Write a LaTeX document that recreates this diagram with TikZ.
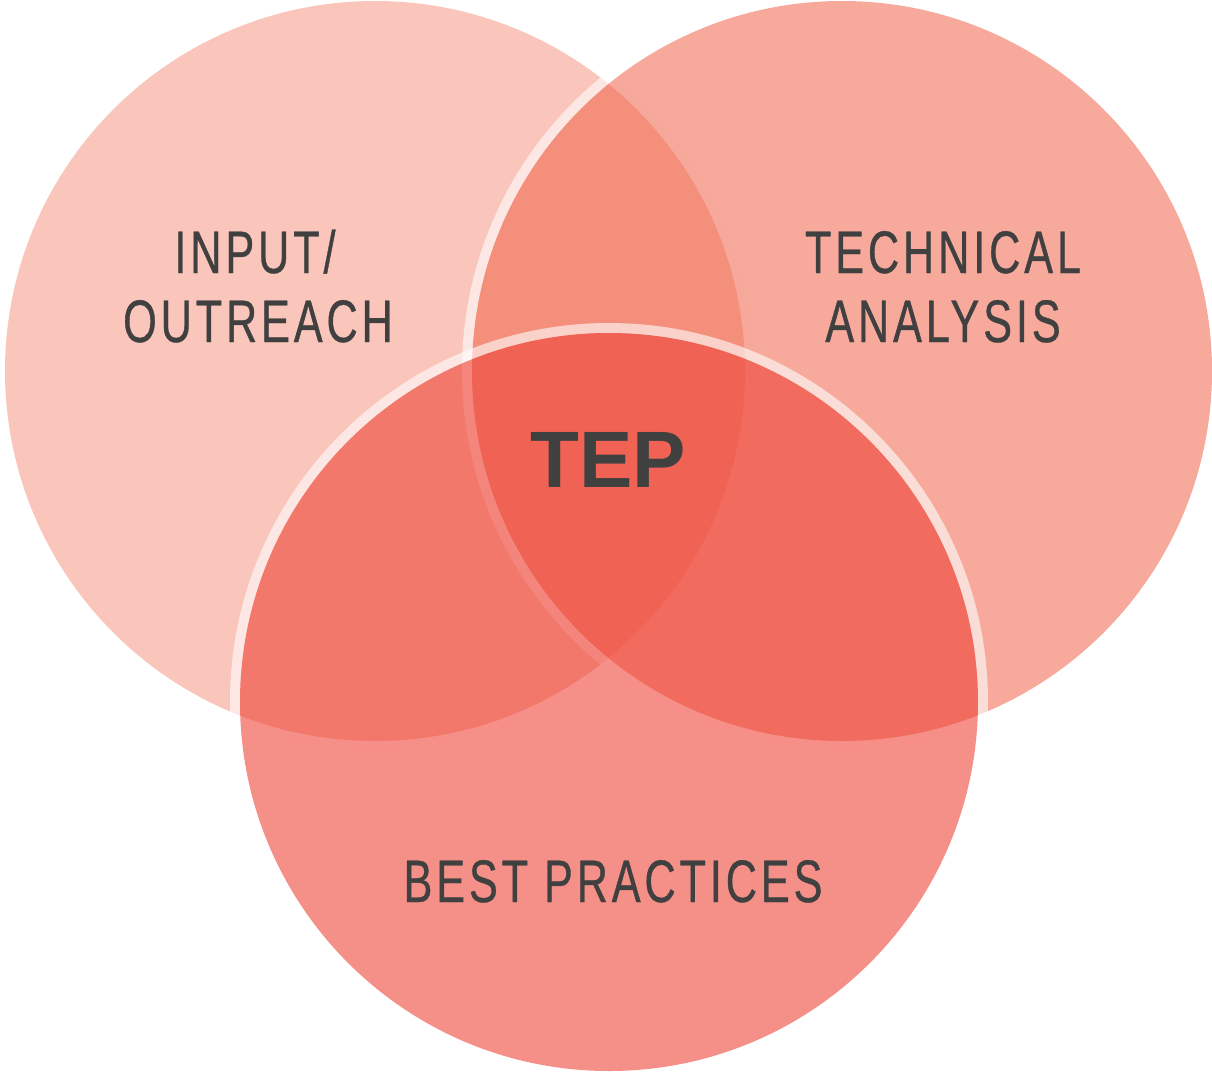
\documentclass[tikz,border=0pt]{standalone}
\usepackage{fontspec}
\setmainfont{Liberation Sans}
\newfontfamily\narrowfont[FakeStretch=0.72,LetterSpace=6.5,FakeBold=0.6]{Liberation Sans}
\usetikzlibrary{%
	positioning
}
\definecolor{inputfill}{RGB}{241,92,61}
\definecolor{techfill}{RGB}{240,99,73}
\definecolor{bestfill}{RGB}{238,66,54}
\definecolor{labelgray}{RGB}{64,64,64}

\begin{document}
\begin{tikzpicture}[
		x=0.5pt,y=-0.5pt,
		SLabel/.style={font=\narrowfont\fontsize{30}{34}\selectfont,text=labelgray,inner sep=0pt,anchor=base},
		SCore/.style={font=\bfseries\fontsize{40}{44}\selectfont,text=labelgray,inner sep=0pt},
		ring/.style={draw=white,draw opacity=.6,line width=5pt}
	]
	\useasboundingbox (0,0) rectangle (1212,1073);
	
	%input / outreach
	\draw [ring] (375,371) circle [radius=375];
	\fill [inputfill,fill opacity=.35] (375,371) circle [radius=370];
	
	%technical analysis
	\draw [ring] (842,371) circle [radius=375];
	\fill [techfill,fill opacity=.55] (842,371) circle [radius=370];
	
	%best practices
	\draw [ring] (609,702) circle [radius=374];
	\fill [bestfill,fill opacity=.59] (609,702) circle [radius=369];
	
	\node (input) [SLabel] at (255,273) {INPUT/};
	\node (outreach) [SLabel] at (258,342) {OUTREACH};
	\node (technical) [SLabel] at (943,273) {TECHNICAL};
	\node (analysis) [SLabel] at (943,342) {ANALYSIS};
	\node (best) [SLabel] at (613,902) {BEST PRACTICES};
	
	\node (tep) [SCore] at (608,460) {TEP};
	
\end{tikzpicture}
\end{document}
